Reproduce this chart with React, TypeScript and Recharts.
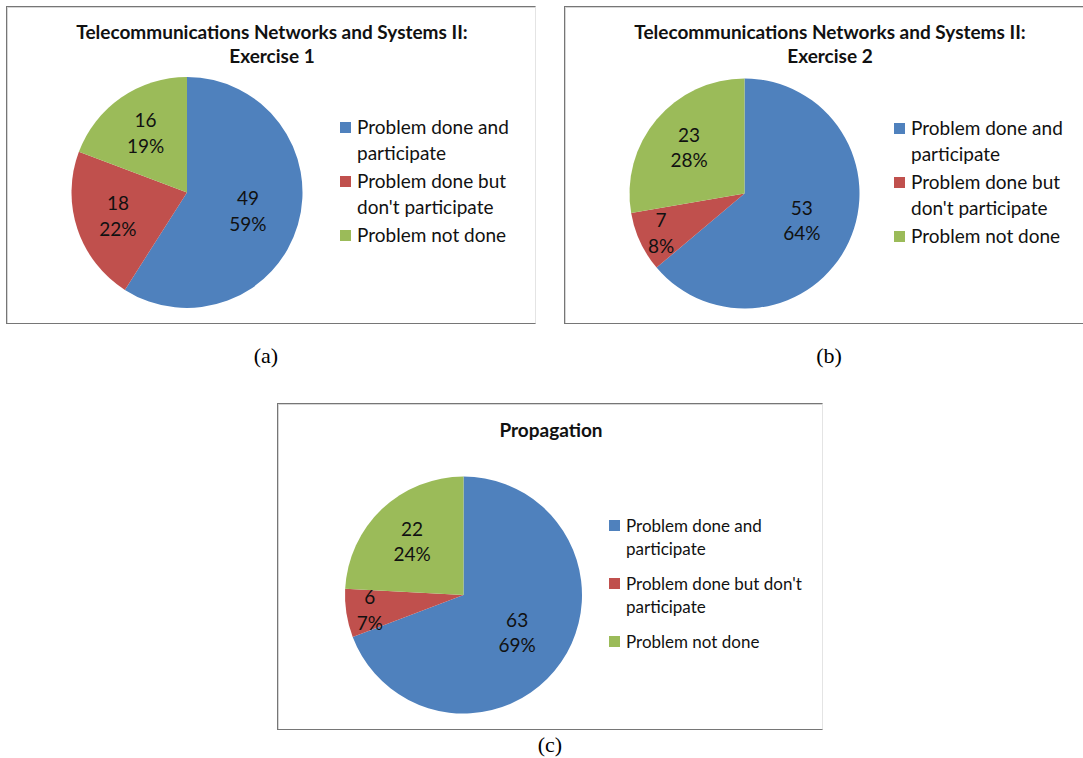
import React from 'react';
import { PieChart, Pie, Cell, Legend } from 'recharts';

// Category names shared by all three charts
const categories = [
  'Problem done and participate',
  "Problem done but don't participate",
  'Problem not done',
];

// Counts per category for each exercise
const exercise1Values = [49, 18, 16];
const exercise2Values = [53, 7, 23];
const propagationValues = [63, 6, 22];

const titlesA = ['Telecommunications Networks and Systems II:', 'Exercise 1'];
const titlesB = ['Telecommunications Networks and Systems II:', 'Exercise 2'];
const titlesC = ['Propagation'];

const captions = ['(a)', '(b)', '(c)'];

const COLORS = ['#4F81BD', '#C0504D', '#9BBB59'];

const UI_FONT = 'Lato, "Open Sans", "DejaVu Sans", sans-serif';

type PanelProps = {
  left: number;
  top: number;
  width: number;
  height: number;
  values: number[];
  title: string[];
  titleX: number;
  titleTop: number;
  cx: number;
  cy: number;
  radius: number;
  legendLeft: number;
  legendTop: number;
  legendFont: number;
  legendLine: number;
  legendGap: number;
  legendTextWidth: number;
  rightBorder: boolean;
};

const RAD = Math.PI / 180;

// Data label drawn inside each slice: the count on top, the share below
const renderSliceLabel = (props: any) => {
  const { cx, cy, midAngle, outerRadius, percent, value } = props;
  const frac = percent > 0.5 ? 0.55 : percent < 0.12 ? 0.8 : 0.63;
  const r = outerRadius * frac;
  const x = cx + r * Math.cos(-midAngle * RAD);
  const y = cy + r * Math.sin(-midAngle * RAD);
  return (
    <text
      x={x}
      y={y}
      textAnchor="middle"
      fontFamily={UI_FONT}
      fontSize={19}
      fill="#111"
    >
      <tspan x={x} y={y - 12.8} dominantBaseline="central">
        {value}
      </tspan>
      <tspan x={x} y={y + 12.8} dominantBaseline="central">
        {Math.round(percent * 100) + '%'}
      </tspan>
    </text>
  );
};

const makeLegend =
  (font: number, line: number, gap: number, textWidth: number) => (props: any) => {
    const items =
      props.payload && props.payload.length
        ? props.payload.map((p: any, i: number) => ({
            label: p.value,
            color: p.color || COLORS[i],
          }))
        : categories.map((c, i) => ({ label: c, color: COLORS[i] }));
    const sq = 11;
    return (
      <div style={{ fontFamily: UI_FONT, fontSize: font, lineHeight: `${line}px`, color: '#111' }}>
        {items.map((it: any, i: number) => (
          <div
            key={i}
            style={{ display: 'flex', alignItems: 'flex-start', marginBottom: i < items.length - 1 ? gap : 0 }}
          >
            <div
              style={{
                width: sq,
                height: sq,
                background: it.color,
                marginTop: (line - sq) / 2,
                marginRight: 6,
                flex: 'none',
              }}
            />
            <div style={{ width: textWidth }}>{it.label}</div>
          </div>
        ))}
      </div>
    );
  };

const Panel = (p: PanelProps) => {
  const data = categories.map((name, i) => ({ name, value: p.values[i] }));
  return (
    <div
      style={{
        position: 'absolute',
        left: p.left,
        top: p.top,
        width: p.width,
        height: p.height,
        boxSizing: 'border-box',
        borderTop: '1px solid #767676',
        borderLeft: '1px solid #767676',
        borderBottom: '1px solid #767676',
        borderRight: p.rightBorder ? '1px solid #e4e4e4' : 'none',
        boxShadow: 'inset 1px 1px 0 #d6d6d6',
        background: '#fff',
      }}
    >
      <div
        style={{
          position: 'absolute',
          left: p.titleX - 250,
          width: 500,
          top: p.titleTop,
          textAlign: 'center',
          fontFamily: UI_FONT,
          fontWeight: 700,
          fontSize: 19,
          lineHeight: '24px',
          color: '#111',
        }}
      >
        {p.title.map((t, i) => (
          <div key={i}>{t}</div>
        ))}
      </div>
      <div style={{ position: 'absolute', left: 0, top: 0 }}>
        <PieChart
          width={p.width - 2}
          height={p.height - 2}
          margin={{ top: 0, right: 0, bottom: 0, left: 0 }}
        >
          <Pie
            data={data}
            dataKey="value"
            nameKey="name"
            cx={p.cx}
            cy={p.cy}
            outerRadius={p.radius}
            innerRadius={0}
            startAngle={90}
            endAngle={-270}
            stroke="none"
            labelLine={false}
            label={renderSliceLabel}
            isAnimationActive={false}
          >
            {data.map((_, i) => (
              <Cell key={i} fill={COLORS[i]} />
            ))}
          </Pie>
          <Legend
            layout="vertical"
            align="right"
            verticalAlign="top"
            wrapperStyle={{ left: p.legendLeft, top: p.legendTop, right: 'auto', width: 'auto' }}
            content={makeLegend(p.legendFont, p.legendLine, p.legendGap, p.legendTextWidth)}
          />
        </PieChart>
      </div>
    </div>
  );
};

const Caption = ({ text, x, y }: { text: string; x: number; y: number }) => (
  <div
    style={{
      position: 'absolute',
      left: x - 40,
      width: 80,
      top: y - 13,
      lineHeight: '26px',
      textAlign: 'center',
      fontFamily: '"Liberation Serif", "DejaVu Serif", serif',
      fontSize: 22,
      color: '#000',
    }}
  >
    {text}
  </div>
);

export default function App() {
  return (
    <div
      style={{
        position: 'absolute',
        left: 0,
        top: 0,
        width: 1083,
        height: 758,
        overflow: 'hidden',
        background: '#fff',
      }}
    >
      <Panel
        left={6}
        top={6}
        width={530}
        height={318}
        values={exercise1Values}
        title={titlesA}
        titleX={265}
        titleTop={13}
        cx={180}
        cy={185.5}
        radius={115.5}
        legendLeft={333}
        legendTop={107}
        legendFont={19}
        legendLine={26}
        legendGap={2}
        legendTextWidth={175}
        rightBorder={true}
      />
      <Panel
        left={564}
        top={6}
        width={530}
        height={318}
        values={exercise2Values}
        title={titlesB}
        titleX={265}
        titleTop={13}
        cx={179.5}
        cy={186.5}
        radius={115}
        legendLeft={329}
        legendTop={108}
        legendFont={19}
        legendLine={26}
        legendGap={2}
        legendTextWidth={175}
        rightBorder={false}
      />
      <Panel
        left={277}
        top={403}
        width={546}
        height={327}
        values={propagationValues}
        title={titlesC}
        titleX={273}
        titleTop={14}
        cx={185.5}
        cy={191}
        radius={118.5}
        legendLeft={331}
        legendTop={110}
        legendFont={17}
        legendLine={23}
        legendGap={12}
        legendTextWidth={195}
        rightBorder={true}
      />
      <Caption text={captions[0]} x={266} y={356} />
      <Caption text={captions[1]} x={829} y={356} />
      <Caption text={captions[2]} x={550} y={745} />
    </div>
  );
}
